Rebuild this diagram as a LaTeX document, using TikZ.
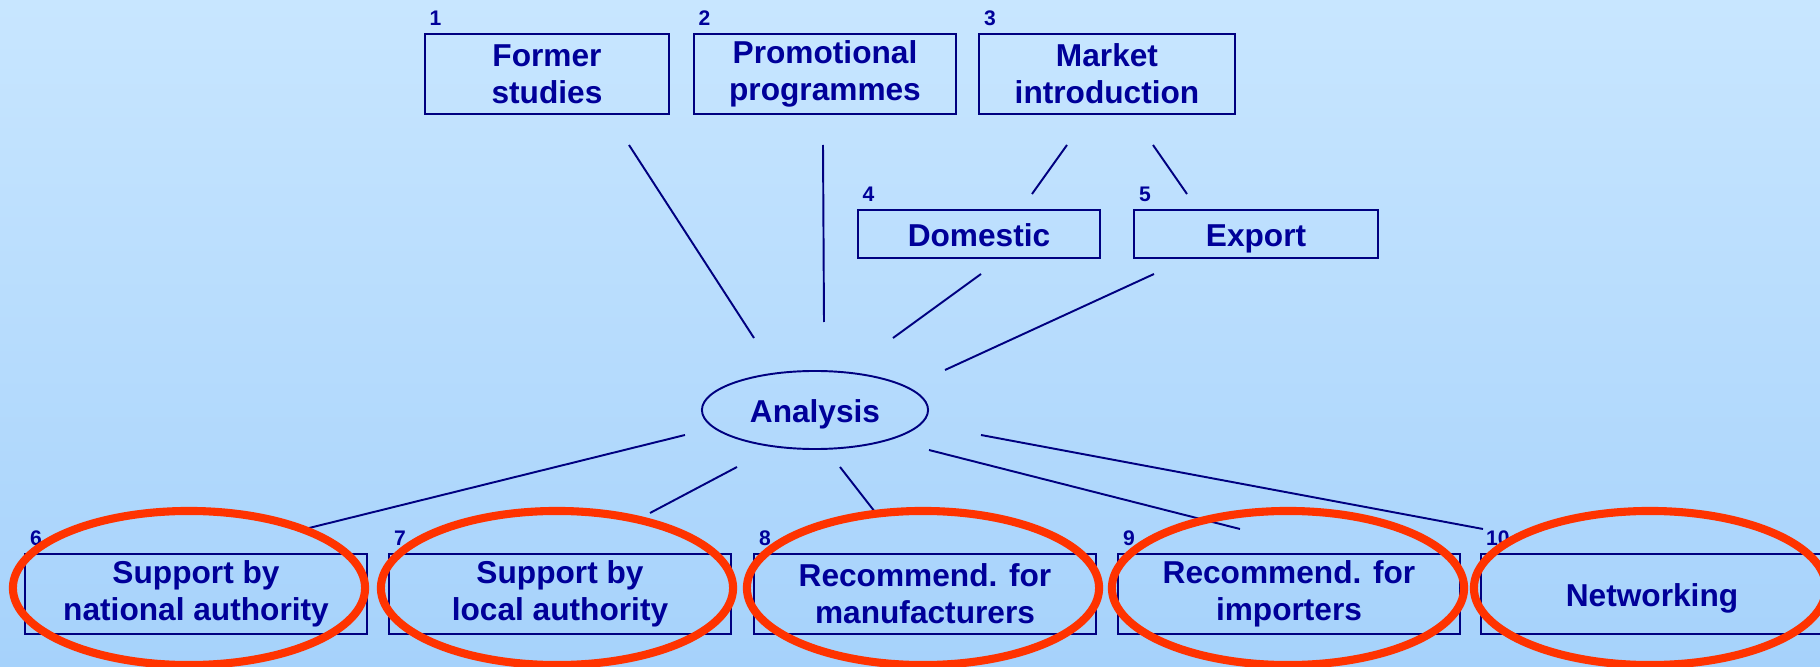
\documentclass[tikz,border=0pt]{standalone}
\usepackage{fontspec}
\setmainfont{Liberation Sans}
\usetikzlibrary{shapes.geometric}
\definecolor{navy}{HTML}{000099}
\definecolor{linec}{HTML}{000080}
\definecolor{redc}{HTML}{FF3300}
\definecolor{bgtop}{HTML}{C8E6FF}
\definecolor{bgbot}{HTML}{A6D2FB}
\begin{document}
\begin{tikzpicture}[x=0.01cm,y=-0.01cm,
  box/.style={draw=linec, line width=0.55pt, inner sep=0pt, minimum height=0.8cm,
    align=center, text=navy, font=\fontsize{9}{10.5}\selectfont\bfseries},
  oneline/.style={text height=8.3pt, text depth=1pt},
  num/.style={anchor=south west, inner sep=0pt, text=navy,
    font=\fontsize{6}{6.5}\selectfont\bfseries},
  conn/.style={draw=linec, line width=0.55pt},
  redring/.style={draw=redc, line width=2.3pt, ellipse, inner sep=0pt,
    minimum width=3.52cm, minimum height=1.54cm}]
\useasboundingbox (0,0) rectangle (1820,667);
\shade[top color=bgtop, bottom color=bgbot] (0,0) rectangle (1820,667);

% top boxes
\node[box, minimum width=2.44cm] (b1) at (547,74) {Former\\studies};
\node[box, minimum width=2.62cm] (b2) at (825,74) {Promotional\\programmes};
\node[box, minimum width=2.55cm] (b3) at (1107,74) {Market\\introduction};
\node[box, oneline, minimum width=2.42cm, minimum height=0.48cm] (b4) at (979,234) {Domestic};
\node[box, oneline, minimum width=2.43cm, minimum height=0.48cm] (b5) at (1256,234) {Export};

% analysis
\node[draw=linec, line width=0.55pt, ellipse, inner sep=0pt, oneline, minimum width=2.26cm,
  minimum height=0.78cm, text=navy, font=\fontsize{9}{10.5}\selectfont\bfseries] (an) at (815,410) {Analysis};

% bottom boxes
\node[box, minimum width=3.41cm] (b6) at (196,594) {Support by\\national authority};
\node[box, minimum width=3.41cm] (b7) at (560,594) {Support by\\local authority};
\node[box, minimum width=3.41cm] (b8) at (925,594) {Recommend. for\\manufacturers};
\node[box, minimum width=3.41cm] (b9) at (1289,594) {Recommend. for\\importers};
\node[box, oneline, minimum width=3.41cm] (b10) at (1652,594) {Networking};

% numbers
\foreach \b/\t in {b1/1,b2/2,b3/3,b4/4,b5/5,b6/6,b7/7,b8/8,b9/9,b10/10}
  \node[num] (n\t) at ([xshift=0.05cm,yshift=0.07cm]\b.north west) {\t};

% connector end points
\coordinate (l1a) at (629,145);  \coordinate (l1b) at (754,338);
\coordinate (l2a) at (823,145);  \coordinate (l2b) at (824,322);
\coordinate (l3a) at (1067,145); \coordinate (l3b) at (1032,194);
\coordinate (l4a) at (1153,145); \coordinate (l4b) at (1187,194);
\coordinate (l5a) at (981,274);  \coordinate (l5b) at (893,338);
\coordinate (l6a) at (1154,274); \coordinate (l6b) at (945,370);
\coordinate (l7a) at (685,435);  \coordinate (l7b) at (305,529);
\coordinate (l8a) at (737,467);  \coordinate (l8b) at (650,513);
\coordinate (l9a) at (840,467);  \coordinate (l9b) at (875,512);
\coordinate (l10a) at (929,450); \coordinate (l10b) at (1240,529);
\coordinate (l11a) at (981,435); \coordinate (l11b) at (1483,529);
\foreach \i in {1,...,11} \draw[conn] (l\i a) -- (l\i b);

% red rings
\node[redring] (r6) at (189,588) {};
\node[redring] (r7) at (557,588) {};
\node[redring] (r8) at (923,588) {};
\node[redring] (r9) at (1288,588) {};
\node[redring] (r10) at (1650,588) {};
\end{tikzpicture}
\end{document}
